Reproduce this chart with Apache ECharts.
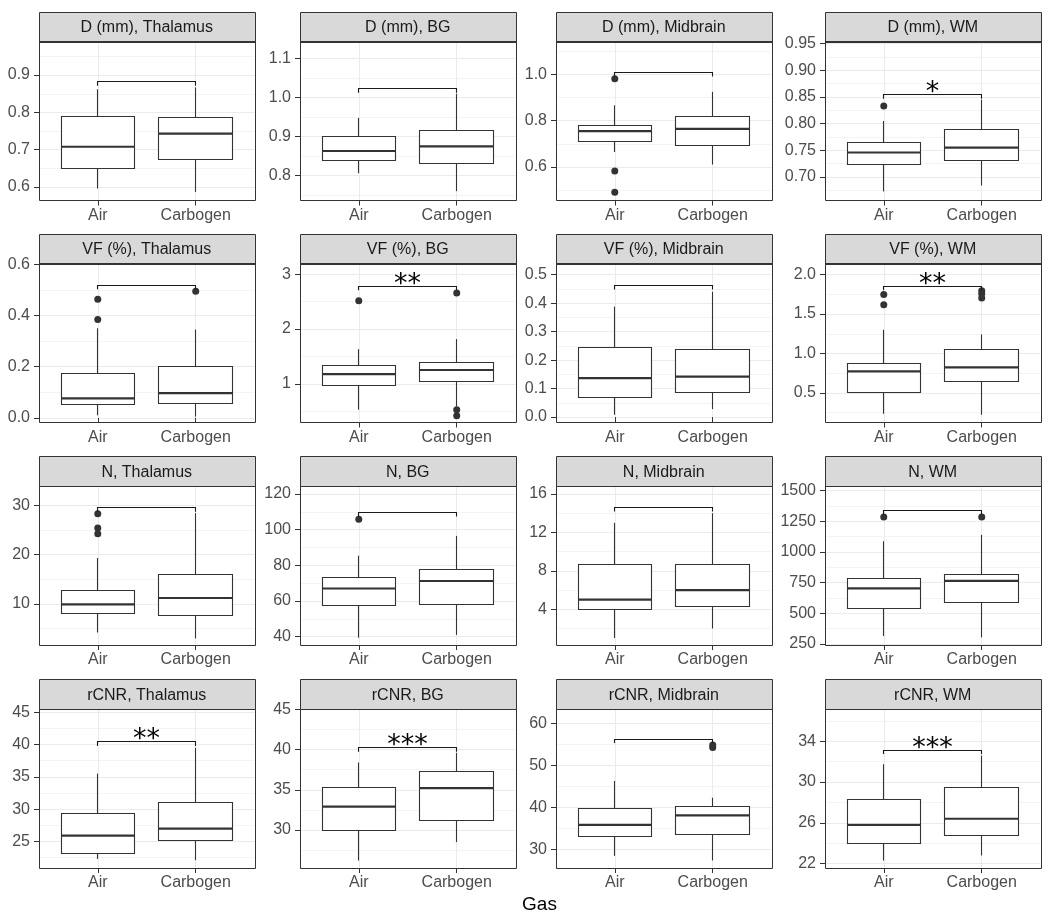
<!DOCTYPE html>
<html><head><meta charset="utf-8">
<script src="https://cdn.jsdelivr.net/npm/echarts@6/dist/echarts.min.js"></script>
<style>html,body{margin:0;padding:0;background:#fff}#chart{width:1050px;height:919px}</style>
</head><body><div id="chart"></div>
<script>
// ---------------- data ----------------
const gases = ['Air', 'Carbogen'];
const metrics = ['D (mm)', 'VF (%)', 'N', 'rCNR'];
const regions = ['Thalamus', 'BG', 'Midbrain', 'WM'];

// five-number summaries [lower whisker, Q1, median, Q3, upper whisker] per region
const boxD_Air = [[0.596, 0.649, 0.708, 0.790, 0.862], [0.806, 0.838, 0.863, 0.899, 0.948], [0.665, 0.712, 0.755, 0.780, 0.866], [0.673, 0.723, 0.746, 0.765, 0.805]];
const boxD_Carbogen = [[0.587, 0.674, 0.743, 0.786, 0.867], [0.760, 0.832, 0.875, 0.916, 1.010], [0.611, 0.691, 0.765, 0.819, 0.924], [0.684, 0.731, 0.755, 0.790, 0.845]];
const outD_Air = [[], [], [0.981, 0.583, 0.492], [0.833]];
const outD_Carbogen = [[], [], [], []];
const bracketD = [0.882, 1.023, 1.007, 0.854];
const signifD = ['', '', '', '*'];
const yRangeD = [[0.564, 0.990], [0.736, 1.144], [0.456, 1.141], [0.656, 0.954]];
const ticksD = [['0.6', '0.7', '0.8', '0.9'], ['0.8', '0.9', '1.0', '1.1'], ['0.6', '0.8', '1.0'], ['0.70', '0.75', '0.80', '0.85', '0.90', '0.95']];

const boxVF_Air = [[0.010, 0.051, 0.076, 0.175, 0.350], [0.528, 0.969, 1.178, 1.337, 1.632], [0.008, 0.070, 0.137, 0.245, 0.388], [0.236, 0.500, 0.773, 0.867, 1.301]];
const boxVF_Carbogen = [[0.005, 0.056, 0.097, 0.201, 0.345], [0.589, 1.043, 1.252, 1.387, 1.816], [0.028, 0.085, 0.142, 0.237, 0.440], [0.223, 0.649, 0.824, 1.046, 1.242]];
const outVF_Air = [[0.463, 0.384], [2.515], [], [1.749, 1.617]];
const outVF_Carbogen = [[0.495], [2.656, 0.528, 0.417], [], [1.795, 1.757, 1.702]];
const bracketVF = [0.518, 2.779, 0.462, 1.851];
const signifVF = ['', '**', '', '**'];
const yRangeVF = [[-0.018, 0.603], [0.294, 3.196], [-0.019, 0.539], [0.125, 2.141]];
const ticksVF = [['0.0', '0.2', '0.4', '0.6'], ['1', '2', '3'], ['0.0', '0.1', '0.2', '0.3', '0.4', '0.5'], ['0.5', '1.0', '1.5', '2.0']];

const boxN_Air = [[4.2, 8.1, 9.9, 12.7, 19.3], [39.4, 57.6, 67.0, 73.1, 85.4], [1, 4, 5, 8.67, 13], [316, 543, 703, 783, 1088]];
const boxN_Carbogen = [[3.0, 7.6, 11.2, 15.9, 28.4], [41.0, 58.3, 71.2, 77.6, 96.5], [2, 4.28, 6, 8.67, 14], [305, 585, 764, 813, 1140]];
const outN_Air = [[28.3, 25.4, 24.2], [105.8], [], [1286]];
const outN_Carbogen = [[], [], [], [1286]];
const bracketN = [29.5, 109.6, 14.6, 1341];
const signifN = ['', '', '', ''];
const yRangeN = [[1.67, 33.9], [35.3, 124.5], [0.28, 16.84], [242, 1538]];
const ticksN = [['10', '20', '30'], ['40', '60', '80', '100', '120'], ['4', '8', '12', '16'], ['250', '500', '750', '1000', '1250', '1500']];

const boxR_Air = [[22.3, 23.1, 25.9, 29.3, 35.5], [26.2, 29.9, 32.9, 35.3, 38.4], [28.4, 33.1, 35.8, 39.8, 46.3], [22.3, 24.0, 25.8, 28.3, 31.75]];
const boxR_Carbogen = [[22.1, 25.2, 27.0, 31.1, 39.5], [28.5, 31.2, 35.2, 37.3, 39.6], [27.3, 33.4, 38.1, 40.3, 42.3], [22.8, 24.8, 26.4, 29.5, 32.6]];
const outR_Air = [[], [], [], []];
const outR_Carbogen = [[], [], [54.9, 54.3], []];
const bracketR = [40.4, 40.24, 56.3, 33.14];
const signifR = ['**', '***', '', '***'];
const yRangeR = [[20.9, 45.5], [25.28, 45.05], [25.5, 63.5], [21.57, 37.17]];
const ticksR = [['25', '30', '35', '40', '45'], ['30', '35', '40', '45'], ['30', '40', '50', '60'], ['22', '26', '30', '34']];

const boxAir = [boxD_Air, boxVF_Air, boxN_Air, boxR_Air];
const boxCarbogen = [boxD_Carbogen, boxVF_Carbogen, boxN_Carbogen, boxR_Carbogen];
const outAir = [outD_Air, outVF_Air, outN_Air, outR_Air];
const outCarbogen = [outD_Carbogen, outVF_Carbogen, outN_Carbogen, outR_Carbogen];
const brackets = [bracketD, bracketVF, bracketN, bracketR];
const signifs = [signifD, signifVF, signifN, signifR];
const yRanges = [yRangeD, yRangeVF, yRangeN, yRangeR];
const ticks = [ticksD, ticksVF, ticksN, ticksR];

// ---------------- layout / style ----------------
const FONT = '"Liberation Sans", Arial, sans-serif';
const colLeft = [39, 300, 556, 825];
const colW = 215.5;
const stripTop = [12, 234, 456.5, 679.5];
const stripH = 29.5;
const plotH = 159;
const BOX_HALF = 0.375;
const INK = '#333333';

const crisp = v => Math.round(v - 0.5) + 0.5;

function renderBox(params, api) {
  const x = api.value(0);
  const lw = api.coord([x - BOX_HALF, api.value(3)]);
  const rw = api.coord([x + BOX_HALF, api.value(3)]);
  const cx = crisp(api.coord([x, 0])[0]);
  const yMin = api.coord([x, api.value(1)])[1];
  const yQ1 = api.coord([x, api.value(2)])[1];
  const yMed = api.coord([x, api.value(3)])[1];
  const yQ3 = api.coord([x, api.value(4)])[1];
  const yMax = api.coord([x, api.value(5)])[1];
  const l = crisp(lw[0]), r = crisp(rw[0]);
  return {
    type: 'group',
    children: [
      { type: 'line', shape: { x1: cx, y1: yMin, x2: cx, y2: yQ1 }, style: { stroke: INK, lineWidth: 1.1 } },
      { type: 'line', shape: { x1: cx, y1: yQ3, x2: cx, y2: yMax }, style: { stroke: INK, lineWidth: 1.1 } },
      { type: 'rect', shape: { x: l, y: crisp(yQ3), width: r - l, height: crisp(yQ1) - crisp(yQ3) }, style: { fill: '#ffffff', stroke: INK, lineWidth: 1.1 } },
      { type: 'line', shape: { x1: l, y1: yMed, x2: r, y2: yMed }, style: { stroke: INK, lineWidth: 2.2 } }
    ]
  };
}

function makeBracket(label, tip) {
  return function (params, api) {
    const y = api.value(2);
    const a = api.coord([api.value(0), y]);
    const b = api.coord([api.value(1), y]);
    const at = api.coord([api.value(0), y - tip]);
    const ax = crisp(a[0]), bx = crisp(b[0]), yy = crisp(a[1]);
    const children = [{
      type: 'polyline',
      shape: { points: [[ax, at[1]], [ax, yy], [bx, yy], [bx, at[1]]] },
      style: { stroke: '#1a1a1a', lineWidth: 1.1, fill: null }
    }];
    if (label) {
      children.push({
        type: 'text', x: (ax + bx) / 2, y: yy - 2,
        style: { text: label, fontSize: 27, fontFamily: '"DejaVu Sans", sans-serif', fill: '#000', align: 'center', verticalAlign: 'middle' }
      });
    }
    return { type: 'group', children };
  };
}

const grids = [], xAxes = [], yAxes = [], series = [], graphics = [];

for (let r = 0; r < 4; r++) {
  for (let c = 0; c < 4; c++) {
    const i = r * 4 + c;
    const left = colLeft[c];
    const top = stripTop[r] + stripH;
    grids.push({ left: left, top: top, width: colW, height: plotH });

    xAxes.push({
      type: 'value', gridIndex: i, min: 0.4, max: 2.6,
      axisLine: { show: false },
      axisTick: { show: true, customValues: [1, 2], length: 5, lineStyle: { color: INK } },
      axisLabel: { show: true, customValues: [1, 2], formatter: v => gases[Math.round(v) - 1], color: '#4D4D4D', fontSize: 16, fontFamily: FONT, margin: 7 },
      splitLine: { show: true, lineStyle: { color: '#EBEBEB', width: 1 } }
    });

    const tickStr = ticks[r][c];
    const majors = tickStr.map(Number);
    const dec = (tickStr[0].split('.')[1] || '').length;
    const step = majors[1] - majors[0];
    const minors = [majors[0] - step / 2].concat(majors.map(m => m + step / 2));
    const [ymin, ymax] = yRanges[r][c];

    yAxes.push({
      type: 'value', gridIndex: i, min: ymin, max: ymax,
      axisLine: { show: false },
      axisTick: { show: true, customValues: majors, length: 5, lineStyle: { color: INK } },
      axisLabel: { show: true, customValues: majors, formatter: v => Number(v).toFixed(dec), color: '#4D4D4D', fontSize: 16, fontFamily: FONT, margin: 9 },
      splitLine: { show: true, lineStyle: { color: '#EBEBEB', width: 1 } }
    });
    yAxes.push({
      type: 'value', gridIndex: i, min: ymin, max: ymax, position: 'left',
      axisLine: { show: false },
      axisTick: { show: false, customValues: minors },
      axisLabel: { show: false, customValues: minors },
      splitLine: { show: true, lineStyle: { color: '#F4F4F4', width: 1 } }
    });

    series.push({
      type: 'custom', xAxisIndex: i, yAxisIndex: 2 * i, silent: true, z: 3,
      renderItem: renderBox,
      encode: { x: 0, y: [1, 2, 3, 4, 5] },
      data: [[1].concat(boxAir[r][c]), [2].concat(boxCarbogen[r][c])]
    });
    series.push({
      type: 'scatter', xAxisIndex: i, yAxisIndex: 2 * i, silent: true, z: 4,
      symbolSize: 7, itemStyle: { color: INK, opacity: 1 },
      data: outAir[r][c].map(v => [1, v]).concat(outCarbogen[r][c].map(v => [2, v]))
    });
    series.push({
      type: 'custom', xAxisIndex: i, yAxisIndex: 2 * i, silent: true, z: 5, clip: false,
      renderItem: makeBracket(signifs[r][c], 0.025 * (ymax - ymin)),
      encode: { x: [0, 1], y: 2 },
      data: [[1, 2, brackets[r][c]]]
    });

    graphics.push({
      type: 'rect', z: 100,
      shape: { x: crisp(left), y: crisp(stripTop[r]), width: Math.round(colW), height: Math.round(stripH) },
      style: { fill: '#D9D9D9', stroke: INK, lineWidth: 1 }
    });
    graphics.push({
      type: 'text', z: 101, x: left + colW / 2, y: stripTop[r] + stripH / 2 + 1,
      style: { text: metrics[r] + ', ' + regions[c], fill: '#1A1A1A', fontSize: 16, fontFamily: FONT, align: 'center', verticalAlign: 'middle' }
    });
    graphics.push({
      type: 'rect', z: 100,
      shape: { x: crisp(left), y: crisp(top), width: Math.round(colW), height: Math.round(plotH) },
      style: { fill: 'rgba(0,0,0,0)', stroke: INK, lineWidth: 1 }
    });
  }
}

graphics.push({
  type: 'text', z: 101, x: 539.5, y: 905,
  style: { text: 'Gas', fill: '#000', fontSize: 19, fontFamily: FONT, align: 'center', verticalAlign: 'middle' }
});

const chart = echarts.init(document.getElementById('chart'), null, { renderer: 'canvas' });
chart.setOption({
  animation: false,
  backgroundColor: '#ffffff',
  grid: grids,
  xAxis: xAxes,
  yAxis: yAxes,
  series: series,
  graphic: { elements: graphics }
});
</script>
</body></html>
